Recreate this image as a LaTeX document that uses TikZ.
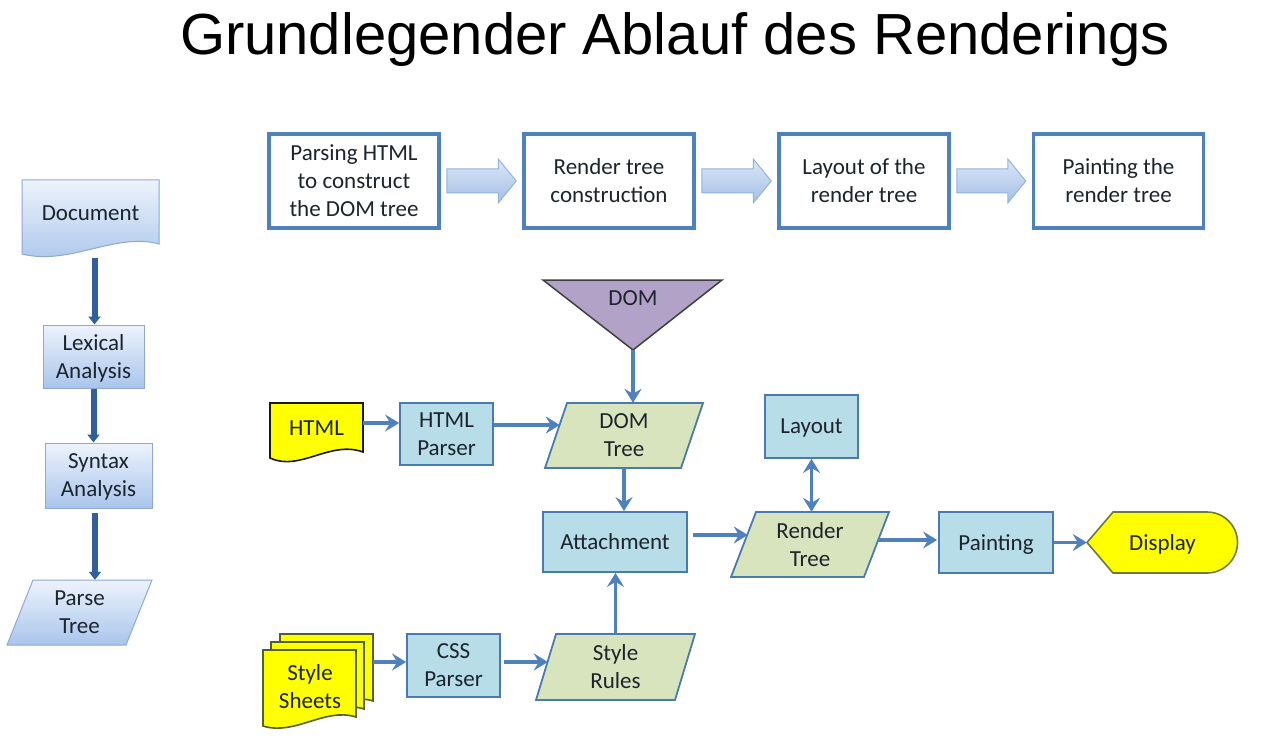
\documentclass[tikz,border=0pt]{standalone}
\usepackage{fontspec}
\setmainfont{Carlito}
\newfontfamily\titlefont{Liberation Sans}
\usetikzlibrary{arrows.meta,calc,backgrounds}
\definecolor{txtc}{HTML}{1C242C}
\definecolor{purp}{HTML}{B3A2C7}
\definecolor{purpdraw}{HTML}{3F3F3F}
\definecolor{yel}{HTML}{FFFF00}
\definecolor{htmldraw}{HTML}{1A1A1A}
\definecolor{sheetdraw}{HTML}{4F6228}
\definecolor{dispdraw}{HTML}{6B7B3C}
\definecolor{procfill}{HTML}{B7DDE8}
\definecolor{procdraw}{HTML}{4A7AAE}
\definecolor{parafillc}{HTML}{D7E4BD}
\definecolor{topblue}{HTML}{4F81BD}
\definecolor{lefttop}{HTML}{EDF3FC}
\definecolor{leftbot}{HTML}{A9C5EC}
\definecolor{leftdraw}{HTML}{8DA8D2}
\definecolor{arrc}{HTML}{4F81BD}
\definecolor{darrc}{HTML}{30609C}
\definecolor{fatop}{HTML}{DCE7F6}
\definecolor{fabot}{HTML}{A3BFE7}
\definecolor{fadraw}{HTML}{93B3DE}
\newcommand\fatarr[2]{\path[fatarrow] ($(#1.east)+(6,-12)$) -- ($(#2.west)+(-24,-12)$) -- ($(#2.west)+(-24,-22)$) -- ($(#2.west)+(-6,0)$) -- ($(#2.west)+(-24,22)$) -- ($(#2.west)+(-24,12)$) -- ($(#1.east)+(6,12)$) -- cycle;}
\begin{document}
\begin{tikzpicture}[x=1pt,y=-1pt,
  txt/.style={font=\fontsize{23}{28}\selectfont, text=txtc, align=center, inner sep=0pt, text depth=0pt},
  topbox/.style={txt, draw=topblue, line width=3.5pt, fill=white, minimum width=170pt, minimum height=94pt},
  procbox/.style={txt, draw=procdraw, line width=1.8pt, fill=procfill},
  leftbox/.style={txt, draw=leftdraw, line width=1pt, top color=lefttop, bottom color=leftbot},
  leftshape/.style={draw=leftdraw, line width=1pt, top color=lefttop, bottom color=leftbot},
  parashape/.style={fill=parafillc, draw=procdraw, line width=1.8pt},
  flowarrow/.style={draw=arrc, line width=3.5pt, -{Stealth[length=14pt,width=17pt,inset=5pt]}},
  bothtips/.style={{Stealth[length=14pt,width=17pt,inset=5pt]}-{Stealth[length=14pt,width=17pt,inset=5pt]}},
  leftarrow/.style={draw=darrc, line width=6pt, -{Triangle[length=8pt,width=12pt]}},
  fatarrow/.style={top color=fatop, bottom color=fabot, draw=fadraw, line width=1pt}]
\useasboundingbox (0,0) rectangle (1268,751);

% title
\node[font=\titlefont\fontsize{58}{60}\selectfont, anchor=base, inner sep=0pt] (title) at (675,55) {Grundlegender Ablauf des Renderings};

% top row
\node[topbox] (b1) at (354,181) {Parsing HTML\\to construct\\the DOM tree};
\node[topbox] (b2) at (609,181) {Render tree\\construction};
\node[topbox] (b3) at (864,181) {Layout of the\\render tree};
\node[topbox] (b4) at (1118.5,181) {Painting the\\render tree};
\fatarr{b1}{b2}
\fatarr{b2}{b3}
\fatarr{b3}{b4}

% left column
\node[txt, minimum width=137pt, minimum height=66pt] (doc) at (90.5,213) {Document};
\node[leftbox, minimum width=101pt, minimum height=63pt] (lex) at (93.5,356.5) {Lexical\\Analysis};
\node[leftbox, minimum width=107pt, minimum height=65pt] (syn) at (98.5,475.5) {Syntax\\Analysis};
\node[txt, minimum width=145pt, minimum height=65pt] (parse) at (79.5,612.5) {Parse\\Tree};

% lower flow
\node[txt] (dom) at (633,298) {DOM};
\coordinate (domapex) at (633,350);
\node[txt, minimum width=158pt, minimum height=65pt] (domtree) at (624,435.5) {DOM\\Tree};
\node[txt, minimum width=93pt, minimum height=50pt] (html) at (316.5,428) {HTML};
\node[procbox, minimum width=93pt, minimum height=62pt] (hparser) at (446.5,434) {HTML\\Parser};
\node[procbox, minimum width=144pt, minimum height=60pt] (attach) at (615,542) {Attachment};
\node[procbox, minimum width=93pt, minimum height=63pt] (layout) at (811.5,426.5) {Layout};
\node[txt, minimum width=158pt, minimum height=65pt] (rtree) at (810,544.5) {Render\\Tree};
\node[procbox, minimum width=114pt, minimum height=61pt] (paint) at (996,542.5) {Painting};
\node[txt, minimum width=151pt, minimum height=61pt] (display) at (1162.5,542.5) {Display};
\node[txt, minimum width=94pt] (sheets) at (310,687) {Style\\Sheets};
\node[procbox, minimum width=93pt, minimum height=63pt] (css) at (453.5,665.5) {CSS\\Parser};
\node[txt, minimum width=159pt, minimum height=66pt] (srules) at (615.5,667) {Style\\Rules};

\begin{scope}[on background layer]
  \fill[white] (0,0) rectangle (1268,751);
  % document shape
  \path[leftshape] (22,180) -- (159,180) -- (159,244) .. controls (115,232) and (70,266) .. (22,254) -- cycle;
  % parse tree
  \path[leftshape] (33,580) -- (152,580) -- (126,645) -- (7,645) -- cycle;
  % DOM triangle
  \draw[fill=purp, draw=purpdraw, line width=1.5pt] (543,280) -- (722,280) -- (domapex) -- cycle;
  % parallelograms
  \draw[parashape] (567,403) -- (703,403) -- (681,468) -- (545,468) -- cycle;
  \draw[parashape] (756,512) -- (889,512) -- (864,577) -- (731,577) -- cycle;
  \draw[parashape] (556,634) -- (695,634) -- (675,700) -- (536,700) -- cycle;
  % HTML document
  \draw[fill=yel, draw=htmldraw, line width=1.6pt] (270,403) -- (363,403) -- (363,452) .. controls (330,440) and (300,472) .. (270,458) -- cycle;
  % style sheets
  \foreach \L/\T in {280/634, 271/642, 263/650}{
    \draw[fill=yel, draw=sheetdraw, line width=1.6pt] (\L,\T) -- ({\L+93},\T) -- ({\L+93},{\T+67}) .. controls ({\L+62},{\T+57}) and ({\L+32},{\T+86}) .. (\L,{\T+76}) -- cycle;
  }
  % display
  \draw[fill=yel, draw=dispdraw, line width=1.6pt] (1087,542.5) -- (1113,512) -- (1207,512) .. controls (1223.85,512) and (1237.5,525.65) .. (1237.5,542.5) .. controls (1237.5,559.35) and (1223.85,573) .. (1207,573) -- (1113,573) -- cycle;
\end{scope}

% left arrows
\draw[leftarrow] ($(doc.south)+(4,12)$) -- ($(lex.north)+(1,0)$);
\draw[leftarrow] (lex.south) -- ($(syn.north)+(-5,0)$);
\draw[leftarrow] ($(syn.south)+(-3.5,4)$) -- ($(parse.north)+(15.5,0)$);

% lower arrows
\draw[flowarrow] (domapex) -- (domapex |- domtree.north);
\draw[flowarrow] ($(html.east)+(0,-5)$) -- ($(hparser.west)+(0,-11)$);
\draw[flowarrow] ($(hparser.east)+(0,-9)$) -- ($(domtree.west)+(15,-10.5)$);
\draw[flowarrow] (domtree.south) -- (domtree.south |- attach.north);
\draw[flowarrow] (srules.north) -- (srules.north |- attach.south);
\draw[flowarrow] ($(attach.east)+(5,-7)$) -- ($(rtree.west)+(17,-9.5)$);
\draw[flowarrow, bothtips] (layout.south) -- (layout.south |- rtree.north);
\draw[flowarrow] ($(rtree.east)+(-11,-4.5)$) -- ($(paint.west)+(-1,-2.5)$);
\draw[flowarrow] (paint.east) -- (display.west);
\draw[flowarrow] ($(sheets.east)+(16,-25)$) -- ($(css.west)+(0,-3.5)$);
\draw[flowarrow] ($(css.east)+(3,-3.5)$) -- ($(srules.west)+(12,-5)$);
\end{tikzpicture}
\end{document}
